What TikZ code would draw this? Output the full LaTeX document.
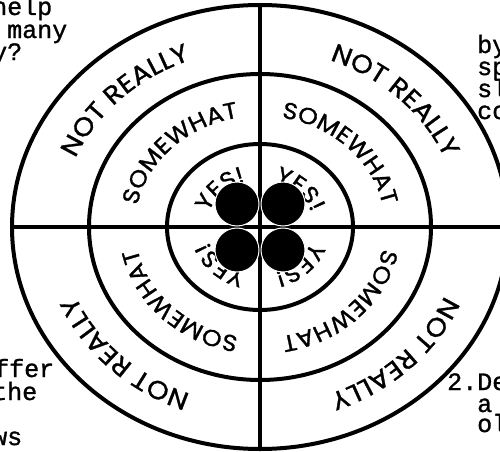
\documentclass[tikz,border=0pt]{standalone}
\usepackage{fontspec}
\usetikzlibrary{decorations.text}
\newfontfamily\ringfont{Poppins}[FakeStretch=1.1, FakeBold=1.2]
\newfontfamily\typefont{Liberation Mono}[FakeBold=1.2]
\newcommand\bandfont[1]{\ringfont\fontsize{#1}{#1}\selectfont}

\begin{document}
\begin{tikzpicture}[x=1pt,y=1pt,
  ring/.style={draw, line width=4pt},
  blob/.style={fill=black, draw=white, line width=1pt},
  band/.style 2 args={decorate, decoration={text along path, text align=center, text={|\bandfont{#1}|#2}}},
  side/.style={font=\typefont\fontsize{25}{22.5}\selectfont, anchor=base west, inner sep=0pt}]
\clip (0,0) rectangle (500,451);
% cut-off page text round the target
\node[side] (helpLn) at (-8,436) {help};
\node[side] (manyLn) at (7,413) {many};
\node[side] (whyLn) at (-8,391) {y?};
\node[side] (byLn) at (477,398) {by};
\node[side] (spLn) at (477,376) {sp};
\node[side] (slLn) at (477,354) {sl};
\node[side] (coLn) at (477,332) {co};
\node[side] (fferLn) at (-6,74) {ffer};
\node[side] (theLn) at (-8,51) {the};
\node[side] (wsLn) at (-8,6) {ws};
\node[side] (deLn) at (447,61) {2.De};
\node[side] (aLn) at (477,39) {a};
\node[side] (olLn) at (477,19) {ol};
\begin{scope}[shift={(260,224)}]
% rings and cross
\draw[ring] (0,0) ellipse[x radius=248, y radius=222];
\draw[ring] (0,0) ellipse[x radius=171, y radius=153];
\draw[ring] (0,0) ellipse[x radius=93, y radius=83];
\draw[ring] (0,222) -- (0,-222);
\draw[ring] (-248,0) -- (240,0);
% labels, clockwise in each quarter
\foreach \a in {180,90,0,-90} {
  \path[band={25.5}{NOT REALLY}] (\a:200 and 178) arc[start angle=\a, end angle=\a-90, x radius=200, y radius=178];
  \path[band={23}{SOMEWHAT}] (\a:125 and 111) arc[start angle=\a, end angle=\a-90, x radius=125, y radius=111];
  \path[band={23}{YES!}] (\a:54 and 47) arc[start angle=\a, end angle=\a-90, x radius=54, y radius=47];
}
% four dots in the middle
\foreach \dx/\dy in {-23/23, 23/23, -23/-23, 23/-23}
  \fill[blob] (\dx,\dy) circle[radius=22];
\end{scope}
\end{tikzpicture}
\end{document}
